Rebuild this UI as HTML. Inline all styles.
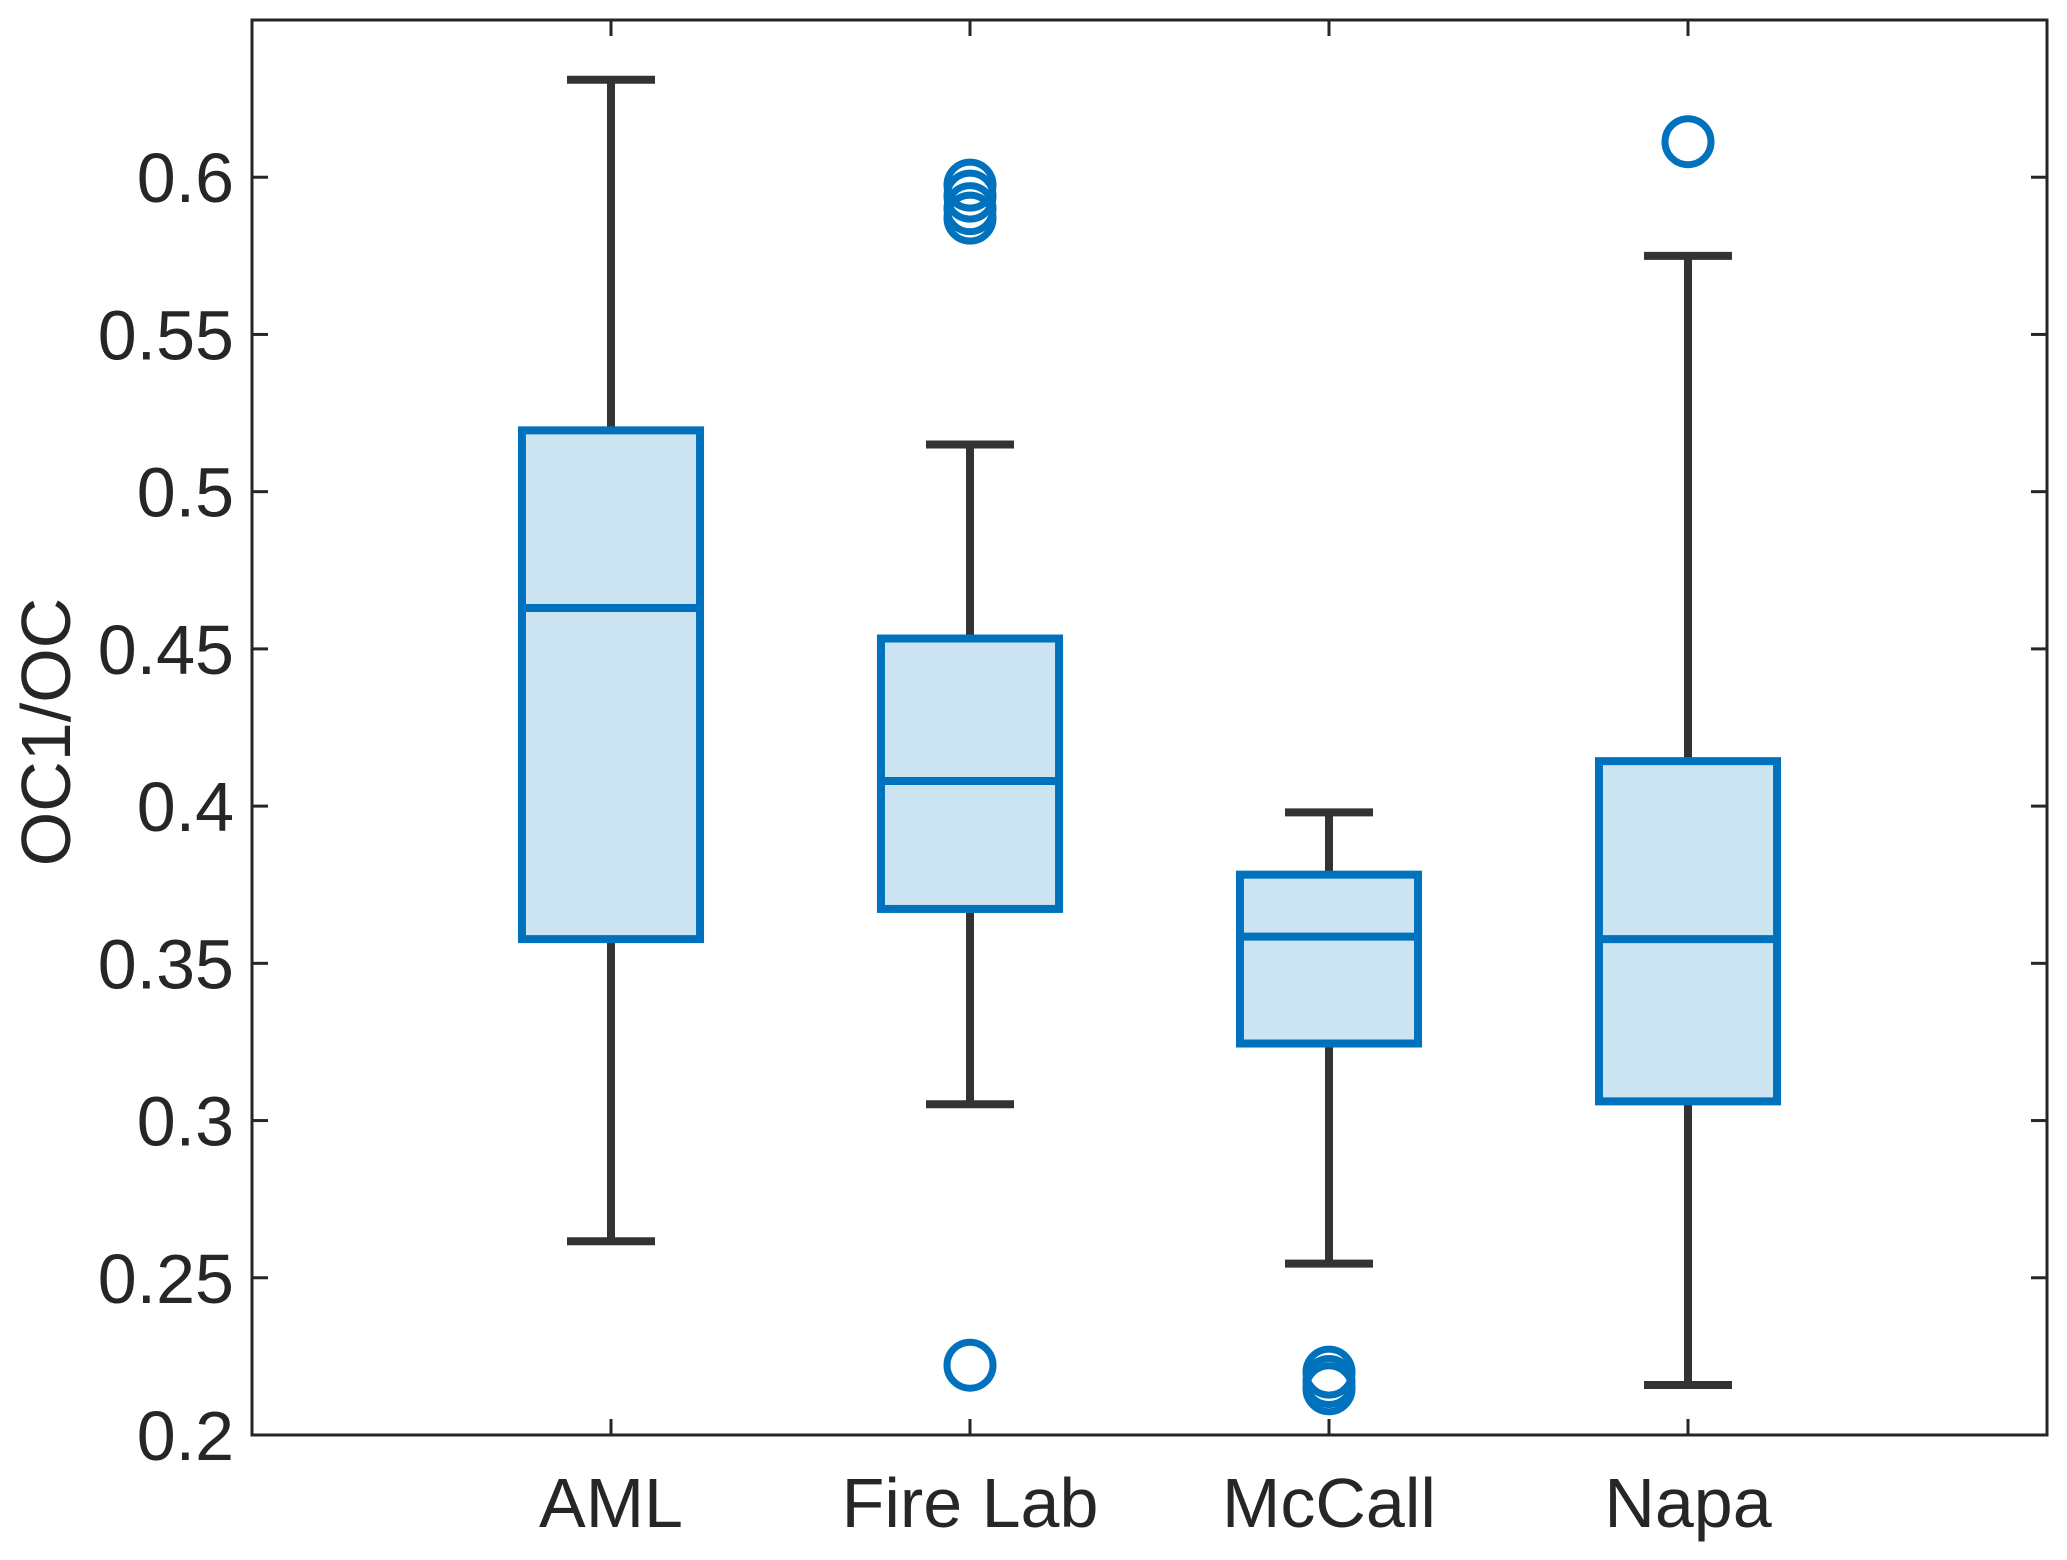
<!DOCTYPE html>
<html><head><meta charset="utf-8"><style>
html,body{margin:0;padding:0;background:#fff}
svg{display:block}
text{font-family:"Liberation Sans",Arial,sans-serif;fill:#262626}
</style></head><body>
<svg id="chart" width="2067" height="1560" viewBox="0 0 2067 1560" xmlns="http://www.w3.org/2000/svg"></svg>
<script>
const categories = ["AML","Fire Lab","McCall","Napa"];
const whiskerHigh = [0.631,0.515,0.398,0.575];
const q3Values = [0.5195,0.4533,0.3782,0.4143];
const medians = [0.463,0.408,0.3585,0.3577];
const q1Values = [0.3577,0.3673,0.3245,0.3061];
const whiskerLow = [0.2616,0.3052,0.2545,0.2159];
const outliers = [[],[0.5975,0.594,0.590,0.587,0.2222],[0.220,0.217,0.2147],[0.6113]];
const yTicks = [0.2,0.25,0.3,0.35,0.4,0.45,0.5,0.55,0.6];
const yTickLabels = ["0.2","0.25","0.3","0.35","0.4","0.45","0.5","0.55","0.6"];

const L=252,R=2047,T=20,B=1435;
const yMin=0.2,yMax=0.65,xMin=0,xMax=5;
const sx=v=>L+(v-xMin)/(xMax-xMin)*(R-L);
const sy=v=>B-(v-yMin)/(yMax-yMin)*(B-T);
const svg=document.getElementById('chart');
const NS="http://www.w3.org/2000/svg";
function mk(tag,attrs,parent){const e=document.createElementNS(NS,tag);for(const k in attrs)e.setAttribute(k,attrs[k]);(parent||svg).appendChild(e);return e;}

const axes=mk('g',{});


const tk=16;
yTicks.forEach((v,i)=>{
  const y=sy(v);
  const t1=mk('line',{x1:L,x2:L+tk,y1:y,y2:y,stroke:'#262626','stroke-width':3},axes);
  
  
  const t2=mk('line',{x1:R,x2:R-tk,y1:y,y2:y,stroke:'#262626','stroke-width':3},axes);
  
  
  const lb=mk('text',{x:L-18,y:y+25,'text-anchor':'end','font-size':70},axes);
  lb.textContent=yTickLabels[i];
  
  
});
categories.forEach((c,i)=>{
  const x=sx(i+1);
  const t1=mk('line',{x1:x,x2:x,y1:B,y2:B-tk,stroke:'#262626','stroke-width':3},axes);
  
  
  const t2=mk('line',{x1:x,x2:x,y1:T,y2:T+tk,stroke:'#262626','stroke-width':3},axes);
  
  
  const lb=mk('text',{x:x,y:1527,'text-anchor':'middle','font-size':70},axes);
  lb.textContent=c;
  
  
});
const yt=mk('text',{x:0,y:0,'text-anchor':'middle','font-size':70,transform:'translate(70,732) rotate(-90)'},axes);
yt.textContent='OC1/OC';



const halfW=0.248*(R-L)/(xMax-xMin), capW=44;
categories.forEach((c,i)=>{
  const x=sx(i+1);
  const g=mk('g',{});
  
  
  const w1=mk('line',{x1:x,x2:x,y1:sy(q3Values[i]),y2:sy(whiskerHigh[i]),stroke:'#333','stroke-width':8},g);
  
  
  const w2=mk('line',{x1:x,x2:x,y1:sy(q1Values[i]),y2:sy(whiskerLow[i]),stroke:'#333','stroke-width':8},g);
  
  
  const c1=mk('line',{x1:x-capW,x2:x+capW,y1:sy(whiskerHigh[i]),y2:sy(whiskerHigh[i]),stroke:'#333','stroke-width':8},g);
  
  
  const c2=mk('line',{x1:x-capW,x2:x+capW,y1:sy(whiskerLow[i]),y2:sy(whiskerLow[i]),stroke:'#333','stroke-width':8},g);
  
  
  const bx=mk('rect',{x:x-halfW,y:sy(q3Values[i]),width:2*halfW,height:sy(q1Values[i])-sy(q3Values[i]),fill:'#cce3f2',stroke:'#0072BD','stroke-width':8},g);
  
  
  const md=mk('line',{x1:x-halfW,x2:x+halfW,y1:sy(medians[i]),y2:sy(medians[i]),stroke:'#0072BD','stroke-width':8},g);
  
  
  outliers[i].forEach(v=>{
    const o=mk('circle',{cx:x,cy:sy(v),r:23,fill:'none',stroke:'#0072BD','stroke-width':7},g);
    
    
  });
});
const fr=mk('rect',{x:L,y:T,width:R-L,height:B-T,fill:'none',stroke:'#262626','stroke-width':3});


</script>
</body></html>
